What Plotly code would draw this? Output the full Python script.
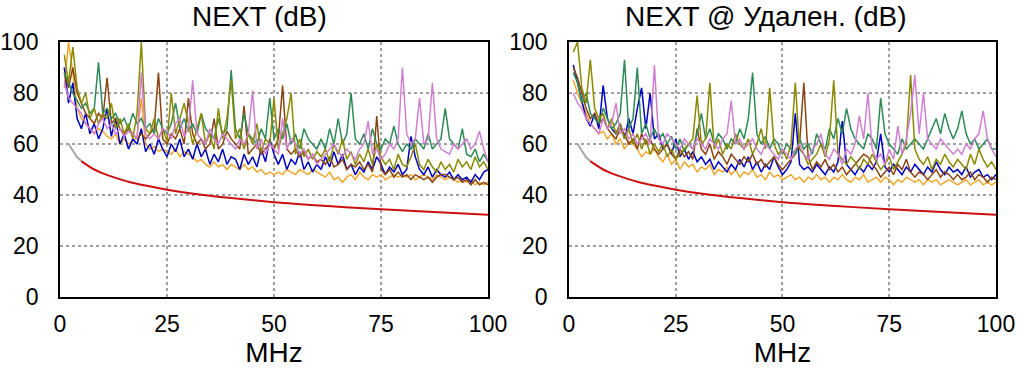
import plotly.graph_objects as go

# ---------------- data ----------------
freq = list(range(1, 101))

# Left panel: NEXT (dB)
L_blue = [90, 76, 84, 70, 66, 72, 64, 68, 62, 66,
          74, 63, 70, 60, 64, 58, 62, 60, 66, 57,
          60, 56, 62, 58, 55, 60, 57, 62, 55, 58,
          54, 60, 55, 58, 52, 56, 53, 58, 52, 55,
          54, 50, 56, 52, 55, 51, 58, 53, 62, 56,
          52, 56, 50, 54, 52, 57, 50, 53, 49, 52,
          50, 55, 51, 57, 52, 56, 50, 52, 48, 51,
          49, 53, 50, 55, 52, 48, 51, 49, 52, 48,
          50, 63, 55, 50, 48, 51, 47, 50, 48, 47,
          49, 46, 48, 46, 47, 45, 48, 46, 49, 50]
L_orange = [82, 100, 88, 74, 70, 68, 66, 64, 66, 65,
            63, 62, 64, 60, 62, 60, 61, 63, 78, 60,
            58, 59, 57, 58, 57, 56, 58, 55, 57, 56,
            55, 53, 54, 52, 51, 53, 51, 52, 50, 52,
            51, 50, 52, 50, 51, 49, 50, 48, 49, 48,
            49, 48, 50, 49, 48, 50, 49, 48, 50, 49,
            48, 47, 49, 46, 47, 45, 47, 48, 46, 49,
            47, 46, 48, 47, 48, 46, 47, 48, 47, 48,
            47, 48, 46, 47, 48, 47, 46, 48, 47, 46,
            47, 46, 45, 46, 45, 46, 44, 45, 44, 45]
L_olive = [95, 84, 98, 82, 76, 80, 70, 74, 68, 72,
           70, 76, 66, 70, 64, 68, 62, 72, 100, 66,
           64, 70, 62, 66, 61, 80, 64, 70, 76, 68,
           60, 66, 72, 60, 64, 58, 74, 62, 70, 85,
           62, 66, 58, 64, 60, 68, 57, 62, 60, 78,
           58, 64, 70, 80, 56, 62, 55, 58, 54, 57,
           55, 58, 53, 60, 56, 62, 54, 57, 52, 56,
           53, 58, 52, 60, 55, 52, 54, 50, 56, 52,
           51, 55, 60, 52, 50, 54, 51, 49, 53, 50,
           52, 49, 54, 51, 53, 50, 55, 51, 53, 50]
L_green = [88, 84, 80, 77, 74, 76, 72, 74, 92, 72,
           74, 70, 72, 68, 70, 66, 72, 68, 70, 66,
           68, 64, 70, 66, 64, 68, 76, 66, 70, 65,
           68, 64, 72, 66, 64, 62, 70, 64, 66, 89,
           66, 62, 72, 64, 62, 60, 66, 62, 78, 62,
           66, 62, 68, 60, 64, 58, 66, 62, 60, 58,
           62, 58, 66, 60, 70, 60, 64, 80, 62, 60,
           64, 58, 66, 60, 58, 62, 60, 67, 60, 57,
           60, 58, 62, 60, 58, 64, 58, 60, 62, 74,
           62, 60, 58, 66, 56, 55, 58, 53, 56, 53]
L_violet = [84, 78, 76, 74, 72, 68, 66, 64, 68, 70,
            66, 68, 64, 66, 63, 65, 64, 62, 88, 64,
            62, 64, 62, 66, 65, 62, 68, 70, 63, 66,
            85, 64, 62, 60, 66, 62, 60, 64, 62, 60,
            58, 62, 60, 64, 81, 58, 62, 56, 60, 58,
            56, 70, 58, 62, 60, 56, 58, 54, 56, 52,
            54, 56, 58, 60, 57, 55, 58, 56, 54, 58,
            60, 69, 56, 58, 54, 56, 60, 58, 62, 90,
            64, 60, 62, 78, 60, 62, 84, 62, 58, 57,
            56, 60, 58, 60, 62, 58, 60, 65, 58, 53]
L_brown = [88, 82, 90, 80, 76, 72, 70, 68, 72, 70,
           86, 68, 70, 66, 64, 66, 64, 62, 64, 62,
           64, 66, 88, 62, 60, 64, 62, 66, 60, 78,
           64, 60, 62, 58, 60, 70, 58, 60, 65, 62,
           60, 58, 75, 56, 58, 60, 56, 58, 60, 58,
           62, 83, 58, 56, 58, 55, 57, 54, 56, 53,
           54, 52, 55, 51, 52, 54, 50, 52, 51, 53,
           50, 52, 49, 71, 50, 48, 50, 47, 49, 47,
           48, 46, 48, 47, 46, 47, 45, 47, 48, 48,
           47, 46, 47, 45, 46, 44, 46, 44, 45, 44]

# Right panel: NEXT @ Удален. (dB)
R_blue = [91, 84, 78, 70, 67, 72, 66, 83, 70, 66,
          64, 68, 62, 70, 64, 74, 82, 66, 80, 62,
          64, 58, 60, 56, 62, 55, 58, 54, 57, 53,
          55, 52, 54, 50, 53, 51, 49, 52, 50, 54,
          51, 55, 50, 53, 49, 52, 50, 55, 51, 48,
          50, 53, 72, 52, 50, 51, 49, 52, 50, 48,
          51, 49, 53, 69, 52, 50, 48, 51, 49, 52,
          50, 53, 64, 51, 49, 52, 50, 48, 51, 49,
          52, 50, 48, 51, 49, 53, 50, 48, 51, 49,
          50, 48, 51, 47, 49, 50, 47, 48, 46, 48]
R_orange = [85, 80, 76, 72, 68, 66, 64, 65, 62, 64,
            60, 62, 58, 61, 60, 58, 55, 57, 56, 58,
            55, 53, 56, 52, 54, 50, 53, 51, 52, 49,
            51, 50, 52, 48, 50, 49, 51, 48, 50, 47,
            49, 48, 50, 47, 48, 46, 49, 47, 48, 46,
            47, 48, 46, 47, 45, 47, 46, 48, 46, 47,
            45, 47, 46, 48, 46, 45, 47, 46, 48, 45,
            46, 47, 45, 47, 46, 44, 46, 45, 47, 46,
            45, 46, 44, 46, 45, 46, 44, 45, 46, 45,
            44, 45, 46, 44, 45, 46, 44, 45, 44, 45]
R_olive = [96, 100, 82, 76, 93, 74, 70, 72, 66, 70,
           64, 68, 62, 66, 60, 64, 58, 62, 56, 60,
           57, 60, 55, 58, 54, 56, 58, 60, 62, 79,
           60, 62, 84, 58, 62, 56, 60, 58, 64, 60,
           58, 62, 56, 60, 66, 58, 82, 60, 56, 58,
           54, 60, 84, 58, 56, 52, 54, 56, 60, 55,
           62, 85, 56, 54, 52, 55, 53, 50, 54, 52,
           56, 53, 50, 52, 55, 50, 53, 56, 60, 87,
           58, 54, 52, 55, 50, 54, 52, 56, 53, 51,
           54, 52, 50, 56, 52, 58, 54, 51, 53, 50]
R_green = [88, 84, 76, 80, 72, 70, 68, 74, 70, 66,
           68, 72, 93, 66, 70, 90, 64, 68, 62, 66,
           62, 64, 60, 63, 58, 62, 57, 60, 58, 64,
           72, 62, 66, 60, 64, 62, 58, 62, 60, 66,
           62, 70, 88, 64, 60, 63, 58, 62, 60, 56,
           60, 58, 56, 62, 58, 60, 56, 64, 60, 58,
           66, 62, 70, 64, 74, 66, 62, 60, 58, 64,
           62, 58, 78, 64, 60, 58, 56, 62, 58, 60,
           62, 60, 58, 62, 66, 70, 64, 72, 66, 62,
           66, 73, 64, 60, 62, 58, 60, 62, 58, 58]
R_violet = [80, 76, 74, 70, 68, 66, 64, 70, 66, 68,
            76, 64, 66, 62, 64, 60, 62, 64, 60, 91,
            62, 60, 64, 62, 60, 58, 62, 60, 58, 62,
            60, 58, 62, 60, 58, 62, 64, 77, 60, 62,
            58, 60, 62, 58, 56, 60, 58, 56, 54, 58,
            56, 54, 58, 60, 56, 54, 58, 60, 64, 56,
            54, 58, 56, 52, 58, 56, 60, 71, 62, 80,
            58, 54, 56, 52, 58, 54, 67, 56, 62, 72,
            87, 64, 80, 62, 60, 58, 62, 60, 58, 56,
            58, 56, 60, 58, 62, 64, 73, 62, 58, 55]
R_brown = [90, 86, 80, 74, 70, 72, 68, 70, 66, 64,
           62, 66, 64, 60, 62, 58, 64, 60, 62, 58,
           56, 58, 60, 56, 54, 58, 55, 57, 54, 66,
           58, 56, 60, 54, 57, 55, 52, 56, 54, 52,
           55, 53, 56, 52, 54, 51, 53, 55, 52, 50,
           52, 54, 56, 60, 84, 55, 50, 53, 51, 54,
           50, 52, 49, 51, 48, 50, 52, 54, 56, 55,
           52, 50, 47, 49, 51, 48, 52, 50, 54, 49,
           47, 49, 48, 46, 48, 50, 47, 49, 48, 46,
           48, 46, 47, 49, 46, 48, 47, 45, 47, 46]

# Limit line (same on both panels)
lim_freq_gray = [2, 3, 4, 5]
lim_gray = [60.0, 57.5, 54.8, 53.3]
lim_freq_red = [5, 6, 8, 10, 12.5, 16, 20, 25, 31.25, 40, 50, 62.5, 75, 85, 100]
lim_red = [53.3, 52.1, 50.0, 48.5, 47.0, 45.2, 43.7, 42.1, 40.5, 38.8, 37.2, 35.7, 34.4, 33.5, 32.3]

titles = ["NEXT (dB)", "NEXT @ Удален. (dB)"]
x_ticks = [0, 25, 50, 75, 100]
y_ticks = [0, 20, 40, 60, 80, 100]

colors = {
    "orange": "#f0a830",
    "blue": "#0000c0",
    "brown": "#8b4513",
    "green": "#2e8b57",
    "olive": "#8a8a00",
    "violet": "#d080d0",
}

FONT = "Arial, Liberation Sans, sans-serif"

fig = go.Figure()

panels = [
    ("x", "y", {"orange": L_orange, "blue": L_blue, "brown": L_brown,
                "green": L_green, "olive": L_olive, "violet": L_violet}),
    ("x2", "y2", {"orange": R_orange, "blue": R_blue, "brown": R_brown,
                  "green": R_green, "olive": R_olive, "violet": R_violet}),
]

for xa, ya, series in panels:
    fig.add_trace(go.Scatter(x=lim_freq_gray, y=lim_gray, mode="lines",
                             line=dict(color="#a8a8a8", width=2),
                             xaxis=xa, yaxis=ya, showlegend=False, hoverinfo="skip"))
    fig.add_trace(go.Scatter(x=lim_freq_red, y=lim_red, mode="lines",
                             line=dict(color="#cc1010", width=2, shape="spline"),
                             xaxis=xa, yaxis=ya, showlegend=False, hoverinfo="skip"))
    for name in ["orange", "blue", "brown", "green", "olive", "violet"]:
        fig.add_trace(go.Scatter(x=freq, y=series[name], mode="lines",
                                 line=dict(color=colors[name], width=1.5),
                                 xaxis=xa, yaxis=ya, showlegend=False, name=name))

axis_common = dict(
    showline=True, linecolor="black", linewidth=1.5, mirror=True,
    showgrid=True, gridcolor="#a0a0a0", griddash="dot", gridwidth=1.5,
    zeroline=False, ticks="", automargin=False,
    tickfont=dict(family=FONT, size=23, color="black"),
)

fig.update_layout(
    width=1024, height=368,
    margin=dict(l=60, r=28, t=42, b=71),
    paper_bgcolor="white", plot_bgcolor="white",
    showlegend=False,
    xaxis=dict(domain=[0, 0.4573], range=[0, 100], tickvals=x_ticks,
               title=dict(text="MHz", font=dict(family=FONT, size=28, color="black"), standoff=0),
               ticklabelstandoff=6, anchor="y", **axis_common),
    yaxis=dict(domain=[0, 1], range=[0, 100], tickvals=y_ticks,
               ticklabelstandoff=15, anchor="x", **axis_common),
    xaxis2=dict(domain=[0.5438, 1.0], range=[0, 100], tickvals=x_ticks,
                title=dict(text="MHz", font=dict(family=FONT, size=28, color="black"), standoff=0),
                ticklabelstandoff=6, anchor="y2", **axis_common),
    yaxis2=dict(domain=[0, 1], range=[0, 100], tickvals=y_ticks,
                ticklabelstandoff=15, anchor="x2", **axis_common),
    annotations=[
        dict(text=titles[0], x=(259 - 60) / 936, y=1, xref="paper", yref="paper",
             xanchor="center", yanchor="middle", yshift=26, showarrow=False,
             font=dict(family=FONT, size=28, color="black")),
        dict(text=titles[1], x=(766 - 60) / 936, y=1, xref="paper", yref="paper",
             xanchor="center", yanchor="middle", yshift=26, showarrow=False,
             font=dict(family=FONT, size=28, color="black")),
    ],
)

fig.write_html("out.html",
               config={"displayModeBar": False},
               post_script="document.body.style.margin='0';document.body.style.overflow='hidden';")
